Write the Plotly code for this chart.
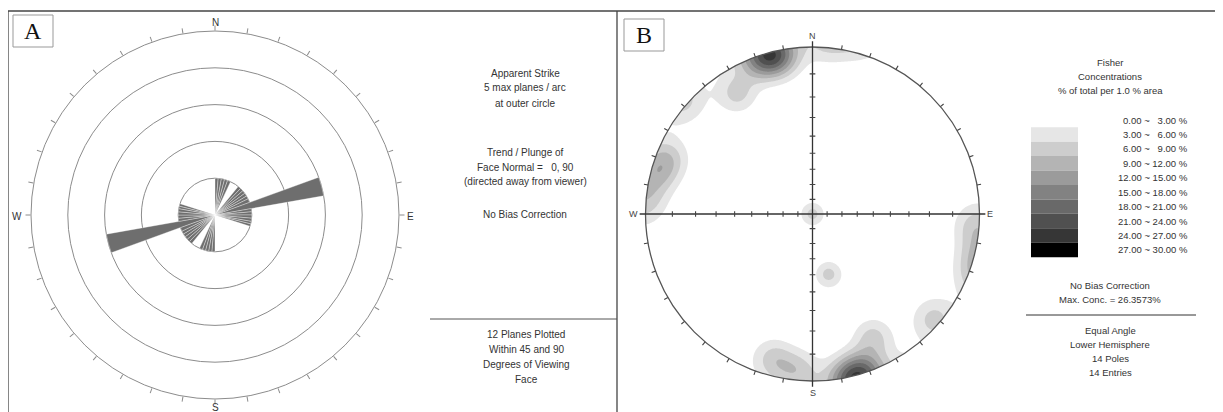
import numpy as np
import plotly.graph_objects as go

# the page body adds an 8px margin; figure is sized/positioned to compensate
OX, OY = 8, 8
W, H = 1215, 404

# ---------------- Panel A data: apparent strike rose (NE half, mirrored +180) -------------
strike_bin_lo = [0, 5, 10, 15, 20, 39, 44, 49, 54, 59, 64, 70, 80, 85, 90, 95, 100, 104]
strike_bin_hi = [5, 10, 15, 20, 25, 44, 49, 54, 59, 64, 70, 80, 85, 90, 95, 100, 104, 108]
strike_planes = [1, 1, 1, 1, 1, 1, 1, 1, 1, 1, 1, 3, 1, 1, 1, 1, 1, 1]
rose_max_planes = 5
rose_compass = {'N': (215, 22), 'E': (410, 216), 'S': (215, 407), 'W': (17, 216)}

panelA_text_top = ["Apparent Strike", "5 max planes / arc", "at outer circle"]
panelA_text_mid = ["Trend / Plunge of", "Face Normal =\u00a0\u00a0\u00a00, 90", "(directed away from viewer)"]
panelA_text_bias = ["No Bias Correction"]
panelA_text_bottom = ["12 Planes Plotted", "Within 45 and 90", "Degrees of Viewing", "Face"]

# ---------------- Panel B data: poles (trend, plunge in degrees) -------------
pole_trend = [341, 344, 346, 349, 328, 131, 291, 284, 94, 0, 165, 185, 195, 154]
pole_plunge = [1, 0, 1, 2, 9, 2, 4, 2, 1, 90, 49, 3, 6, 11]
fisher_kappa = 100
conc_lo = [0, 3, 6, 9, 12, 15, 18, 21, 24, 27]
conc_hi = [3, 6, 9, 12, 15, 18, 21, 24, 27, 30]
conc_colors = ['#ffffff', '#e6e6e6', '#cdcdcd', '#b4b4b4', '#9b9b9b',
               '#828282', '#696969', '#505050', '#363636', '#000000']
legend_title = ["Fisher", "Concentrations", "% of total per 1.0 % area"]
panelB_text_mid = ["No Bias Correction", "Max. Conc. = 26.3573%"]
panelB_text_bottom = ["Equal Angle", "Lower Hemisphere", "14 Poles", "14 Entries"]

FONT = "Liberation Sans, Arial, sans-serif"
SERIF = "Liberation Serif, Times New Roman, serif"
TXT = '#333333'


def px(x):
    return (x - OX) / W


def py(y):
    return 1 - (y - OY) / H


fig = go.Figure()

# ---------------- Rose diagram ----------------
lo = np.array(strike_bin_lo, float)
hi = np.array(strike_bin_hi, float)
cen = (lo + hi) / 2
wid = hi - lo
fig.add_trace(go.Barpolar(
    r=list(strike_planes) * 2,
    theta=list(cen) + list(cen + 180),
    width=list(wid) * 2,
    marker=dict(color='#6e6e6e', line=dict(color='rgba(255,255,255,0.6)', width=0.6)),
    hoverinfo='skip', showlegend=False, subplot='polar'))

cxA, cyA, RA = 215, 215, 184
tickvals = list(range(0, 360, 10))

# ---------------- Stereonet density (Fisher, equal angle, lower hemisphere) ----------------
g = np.linspace(-1.06, 1.06, 425)
X, Y = np.meshgrid(g, g)
Rg = np.hypot(X, Y)
th = 2 * np.arctan(Rg)
az = np.arctan2(X, Y)
nx, ny, nz = np.sin(th) * np.sin(az), np.sin(th) * np.cos(az), np.cos(th)
t = np.radians(pole_trend)
p = np.radians(pole_plunge)
dens = np.zeros_like(X)
N = len(pole_trend)
for ti, pi in zip(t, p):
    c = np.abs(nx * np.cos(pi) * np.sin(ti) + ny * np.cos(pi) * np.cos(ti) + nz * np.sin(pi))
    dens += np.exp(fisher_kappa * (c - 1))
dens *= fisher_kappa / N

ncol = len(conc_colors)
fig.add_trace(go.Contour(
    x=g, y=g, z=dens,
    contours=dict(start=conc_hi[0], end=conc_lo[-1], size=3, coloring='fill', showlines=False),
    colorscale=[[k / (ncol - 1), col] for k, col in enumerate(conc_colors)],
    line=dict(width=0), showscale=False, hoverinfo='skip', xaxis='x', yaxis='y'))

cxB, cyB, RB = 812.5, 214, 167
xr = [-1.25, 1.25]
yr = [-1.18, 1.18]
xdom = [px(cxB + xr[0] * RB), px(cxB + xr[1] * RB)]
ydom = [py(cyB - yr[0] * RB), py(cyB - yr[1] * RB)]

shapes = []
ang = np.linspace(0, 2 * np.pi, 361)
circ = " ".join(("M" if i == 0 else "L") + f"{np.cos(a):.4f},{np.sin(a):.4f}" for i, a in enumerate(ang)) + " Z"
e = 1.07
mask = f"M{-e},{-e} L{e},{-e} L{e},{e} L{-e},{e} Z " + circ
shapes.append(dict(type='path', path=mask, xref='x', yref='y', fillcolor='white',
                   line=dict(width=0), fillrule='evenodd', layer='above'))
shapes.append(dict(type='circle', xref='x', yref='y', x0=-1, x1=1, y0=-1, y1=1,
                   line=dict(color='#555555', width=1.3), layer='above'))
shapes.append(dict(type='line', xref='x', yref='y', x0=-1.035, x1=1.035, y0=0, y1=0,
                   line=dict(color='#333333', width=1.3), layer='above'))
shapes.append(dict(type='line', xref='x', yref='y', x0=0, x1=0, y0=-1.035, y1=1.035,
                   line=dict(color='#333333', width=1.3), layer='above'))
segs = []
tl = 0.017
for pl in range(10, 90, 10):
    r = np.tan(np.radians(90 - pl) / 2)
    for s in (1, -1):
        segs.append(f"M{s*r:.4f},{-tl} L{s*r:.4f},{tl}")
        segs.append(f"M{-tl},{s*r:.4f} L{tl},{s*r:.4f}")
for a in range(0, 360, 10):
    if a % 90 == 0:
        continue
    ar = np.radians(a)
    sx, sy = np.sin(ar), np.cos(ar)
    segs.append(f"M{sx:.4f},{sy:.4f} L{sx*1.025:.4f},{sy*1.025:.4f}")
shapes.append(dict(type='path', path=" ".join(segs), xref='x', yref='y',
                   line=dict(color='#444444', width=1.1), layer='above'))

frame_col = '#444444'
shapes += [
    dict(type='line', xref='paper', yref='paper', x0=px(8), x1=px(1223), y0=py(11), y1=py(11), line=dict(color=frame_col, width=1.3)),
    dict(type='line', xref='paper', yref='paper', x0=px(8), x1=px(8), y0=py(11), y1=py(412), line=dict(color=frame_col, width=1.3)),
    dict(type='line', xref='paper', yref='paper', x0=px(617), x1=px(617), y0=py(11), y1=py(412), line=dict(color=frame_col, width=1.3)),
    dict(type='line', xref='paper', yref='paper', x0=px(430), x1=px(617), y0=py(319), y1=py(319), line=dict(color='#555555', width=1)),
    dict(type='line', xref='paper', yref='paper', x0=px(1026), x1=px(1196), y0=py(315), y1=py(315), line=dict(color='#333333', width=1)),
    dict(type='rect', xref='paper', yref='paper', x0=px(13), x1=px(53), y0=py(47), y1=py(15), line=dict(color='#999999', width=1)),
    dict(type='rect', xref='paper', yref='paper', x0=px(624), x1=px(664), y0=py(51), y1=py(19), line=dict(color='#999999', width=1)),
]

ylab0, ystep = 120, 14.44
for k in range(1, len(conc_lo)):
    yc = ylab0 + k * ystep
    shapes.append(dict(type='rect', xref='paper', yref='paper', x0=px(1031), x1=px(1078),
                       y0=py(yc + ystep / 2), y1=py(yc - ystep / 2),
                       fillcolor=conc_colors[k], line=dict(width=0)))

annotations = []


def add_lines(lines, x, y0, dy=15, size=10, anchor='center', color=TXT, family=FONT):
    for i, s in enumerate(lines):
        annotations.append(dict(text=s, x=px(x), y=py(y0 + i * dy), xref='paper', yref='paper',
                                xanchor=anchor, yanchor='middle', showarrow=False,
                                font=dict(family=family, size=size, color=color)))


add_lines(panelA_text_top, 525, 73)
add_lines(panelA_text_mid, 525, 152)
add_lines(panelA_text_bias, 525, 214)
add_lines(panelA_text_bottom, 526, 334)
add_lines(legend_title, 1110, 62, dy=14.2, size=9.5)
for k in range(len(conc_lo)):
    lab = f"{conc_lo[k]:.2f} ~ " + ("\u00a0\u00a0" if conc_hi[k] < 10 else "") + f"{conc_hi[k]:.2f} %"
    add_lines([lab], 1190, ylab0 + k * ystep, size=9.5, anchor='right')
add_lines(panelB_text_mid, 1110, 285, dy=14.5, size=9.5)
add_lines(panelB_text_bottom, 1110, 330, dy=14.2, size=9.5)

add_lines(["A"], 33, 31, size=24, color='#111', family=SERIF)
add_lines(["B"], 644, 35, size=24, color='#111', family=SERIF)
for s, (xx, yy) in rose_compass.items():
    add_lines([s], xx, yy, size=10, color='#333')
for s, (xx, yy) in {'N': (0, 1.066), 'S': (0, -1.072), 'W': (-1.07, 0), 'E': (1.065, 0)}.items():
    annotations.append(dict(text=s, x=xx, y=yy, xref='x', yref='y', showarrow=False,
                            xanchor='center', yanchor='middle', font=dict(family=FONT, size=9, color='#444')))

fig.update_layout(
    width=W, height=H, margin=dict(l=0, r=0, t=0, b=0),
    paper_bgcolor='white', plot_bgcolor='rgba(0,0,0,0)', showlegend=False,
    polar=dict(
        domain=dict(x=[px(cxA - RA), px(cxA + RA)], y=[py(cyA + RA), py(cyA - RA)]),
        bgcolor='rgba(0,0,0,0)',
        radialaxis=dict(range=[0, rose_max_planes], tickvals=list(range(1, rose_max_planes + 1)),
                        showticklabels=False, ticks='', showline=False,
                        gridcolor='#8c8c8c', gridwidth=1),
        angularaxis=dict(rotation=90, direction='clockwise', tickmode='array',
                         tickvals=tickvals, ticktext=[''] * len(tickvals), ticks='outside', ticklen=5,
                         tickcolor='#8c8c8c', showgrid=False, showline=True,
                         linecolor='#8c8c8c', linewidth=1)),
    xaxis=dict(domain=xdom, range=xr, visible=False, fixedrange=True),
    yaxis=dict(domain=ydom, range=yr, visible=False, fixedrange=True),
    shapes=shapes, annotations=annotations,
)

fig.write_html("out.html")
